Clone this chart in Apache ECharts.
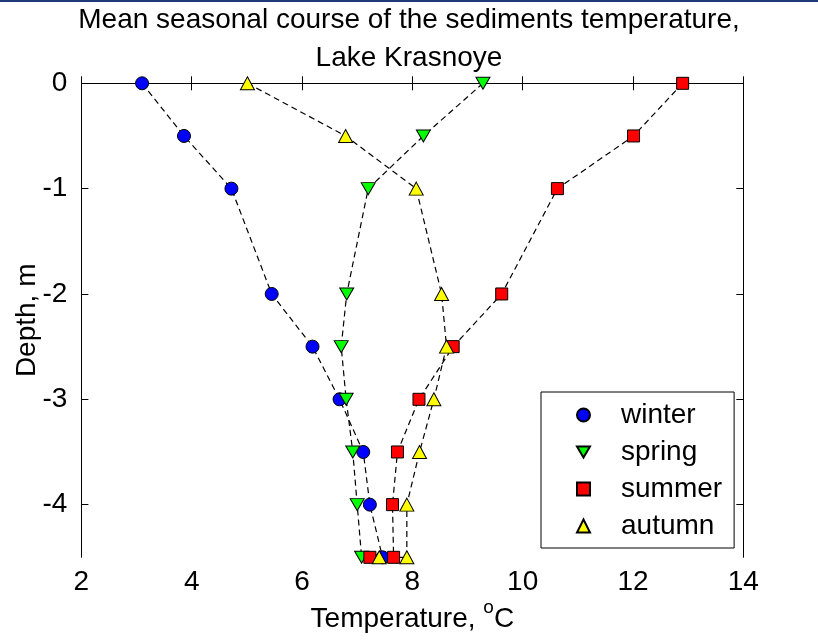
<!DOCTYPE html>
<html>
<head>
<meta charset="utf-8">
<title>Sediment temperature, Lake Krasnoye</title>
<script src="https://cdn.jsdelivr.net/npm/echarts@6/dist/echarts.min.js"></script>
<style>
  html, body { margin: 0; padding: 0; background: #fff; }
  #chart { width: 818px; height: 641px; }
</style>
</head>
<body>
<div id="chart"></div>
<script>
// Depth of each measurement level, m
const depths = [0, -0.5, -1, -2, -2.5, -3, -3.5, -4, -4.5];
// summer and autumn carry one extra reading at the bottom level
const depthsWithBottom = [0, -0.5, -1, -2, -2.5, -3, -3.5, -4, -4.5, -4.5];

// Mean sediment temperature per season, degrees C
const winter = [3.10, 3.86, 4.72, 5.45, 6.19, 6.68, 7.11, 7.23, 7.46];
const spring = [9.28, 8.20, 7.20, 6.81, 6.71, 6.80, 6.92, 7.00, 7.08];
const summer = [12.90, 12.01, 10.63, 9.62, 8.74, 8.12, 7.73, 7.64, 7.66, 7.23];
const autumn = [5.01, 6.79, 8.07, 8.53, 8.62, 8.39, 8.13, 7.90, 7.90, 7.40];

const seasonNames = ['winter', 'spring', 'summer', 'autumn'];
const xTicks = [2, 4, 6, 8, 10, 12, 14];
const yTicks = [-4, -3, -2, -1, 0];

const FONT = '"Liberation Sans", Arial, Helvetica, sans-serif';
const FS = 28;

function pairs(values, levels) {
  return values.map((v, i) => [v, levels[i]]);
}

const downTriangle = 'path://M0,0 L14,0 L7,12 Z';

const seriesDefs = [
  { name: seasonNames[0], data: pairs(winter, depths), symbol: 'circle', size: 13, color: '#0000ff' },
  { name: seasonNames[1], data: pairs(spring, depths), symbol: downTriangle, size: [14, 12], color: '#00ff00' },
  { name: seasonNames[2], data: pairs(summer, depthsWithBottom), symbol: 'rect', size: 12, color: '#ff0000' },
  { name: seasonNames[3], data: pairs(autumn, depthsWithBottom), symbol: 'triangle', size: [14, 13], color: '#ffff00' }
];

const legendIcons = ['circle', downTriangle, 'rect', 'triangle'];

const axisLineStyle = { lineStyle: { color: '#000', width: 1 } };
const tickStyle = { show: true, inside: true, length: 7, lineStyle: { color: '#000', width: 1 } };

const chart = echarts.init(document.getElementById('chart'), null, { renderer: 'canvas' });

chart.setOption({
  animation: false,
  backgroundColor: '#fff',
  textStyle: { fontFamily: FONT },
  title: {
    text: 'Mean seasonal course of the sediments temperature,\nLake Krasnoye',
    left: 'center',
    top: 1,
    padding: 0,
    textStyle: { fontFamily: FONT, fontSize: FS, fontWeight: 'normal', color: '#000', lineHeight: 38 }
  },
  graphic: [
    { type: 'rect', left: 0, top: 0, shape: { width: 818, height: 2 }, style: { fill: '#1f3a78' }, silent: true }
  ],
  grid: { left: 81.4, right: 74.7, top: 83.3, bottom: 83.7, containLabel: false, outerBoundsMode: 'none' },
  legend: {
    orient: 'vertical',
    left: 541,
    top: 392,
    padding: [8, 12, 7, 35],
    itemGap: 7,
    itemWidth: 13,
    itemHeight: 13,
    backgroundColor: '#fff',
    borderColor: '#000',
    borderWidth: 1,
    borderRadius: 0,
    data: seasonNames.map((n, i) => ({ name: n, icon: legendIcons[i] })),
    textStyle: { fontFamily: FONT, fontSize: FS, color: '#000', lineHeight: 30, padding: [0, 0, 0, 26] }
  },
  xAxis: [
    {
      type: 'value', position: 'bottom', min: 2, max: 14, interval: 2,
      name: 'Temperature, {sup|o}C',
      nameLocation: 'middle', nameGap: 41, nameMoveOverlap: false,
      nameTextStyle: {
        fontFamily: FONT, fontSize: FS, color: '#000',
        rich: { sup: { fontFamily: FONT, fontSize: 19, color: '#000', padding: [0, 0, 22, 0] } }
      },
      axisLine: axisLineStyle, axisTick: tickStyle,
      axisLabel: { color: '#000', fontSize: FS, fontFamily: FONT, margin: 11,
        customValues: xTicks },
      splitLine: { show: false }
    },
    {
      type: 'value', position: 'top', min: 2, max: 14, interval: 2,
      axisLine: axisLineStyle, axisTick: tickStyle,
      axisLabel: { show: false }, splitLine: { show: false }
    }
  ],
  yAxis: [
    {
      type: 'value', position: 'left', min: -4.5, max: 0,
      name: 'Depth, m', nameLocation: 'middle', nameRotate: 90, nameGap: 40, nameMoveOverlap: false,
      nameTextStyle: { fontFamily: FONT, fontSize: FS, color: '#000' },
      axisLine: axisLineStyle,
      axisTick: Object.assign({}, tickStyle, { customValues: yTicks }),
      axisLabel: { color: '#000', fontSize: FS, fontFamily: FONT, margin: 14, customValues: yTicks },
      splitLine: { show: false }
    },
    {
      type: 'value', position: 'right', min: -4.5, max: 0,
      axisLine: axisLineStyle,
      axisTick: Object.assign({}, tickStyle, { customValues: yTicks }),
      axisLabel: { show: false, customValues: yTicks }, splitLine: { show: false }
    }
  ],
  series: seriesDefs.map(s => ({
    name: s.name,
    type: 'line',
    xAxisIndex: 0,
    yAxisIndex: 0,
    data: s.data,
    symbol: s.symbol,
    symbolSize: s.size,
    showAllSymbol: true,
    clip: false,
    lineStyle: { color: '#000', width: 1.2, type: [6, 4] },
    itemStyle: { color: s.color, borderColor: '#000', borderWidth: 1 },
    emphasis: { disabled: true }
  }))
});
</script>
</body>
</html>
